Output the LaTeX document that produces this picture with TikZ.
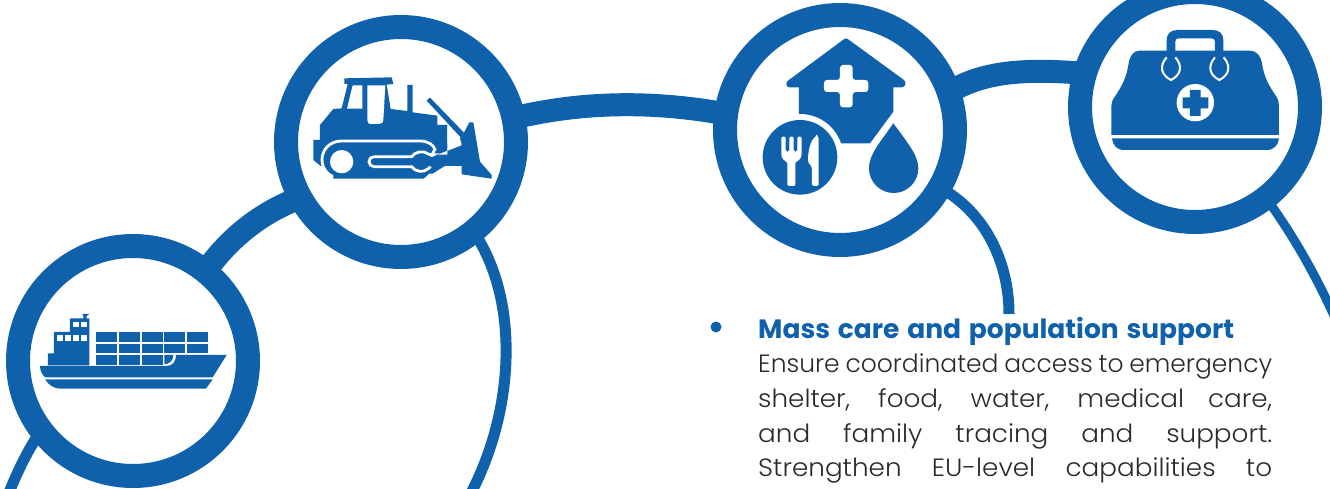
\documentclass[tikz,border=0pt]{standalone}
\usepackage{fontspec}
\setmainfont{Poppins Light}[BoldFont={Poppins Bold}]
\usetikzlibrary{backgrounds}
\definecolor{eublue}{HTML}{0F61AC}
\definecolor{bodytext}{HTML}{2A2A2A}
\newlength{\linew}\setlength{\linew}{514pt}
\newcommand{\jline}[1]{\makebox[\linew][s]{#1}}
\newcommand{\wideline}[1]{\makebox[\linew][s]{\addfontfeature{FakeStretch=1.05}#1}}
\tikzset{
  ring/.style={circle,draw=eublue,fill=white,line width=24pt,minimum size=230pt,inner sep=0pt,outer sep=0pt},
  thick link/.style={draw=eublue,line width=23pt},
  thin link/.style={draw=eublue,line width=11pt},
  ink/.style={fill=eublue,draw=none},
  gap/.style={fill=white,draw=none},
  zoomed/.style={x=0.33333pt,y=-0.33333pt},
  bodyline/.style={anchor=base west,inner sep=0pt,text=bodytext,font=\fontsize{25}{30}\selectfont},
}
\begin{document}
\begin{tikzpicture}[x=1pt,y=-1pt]
\useasboundingbox (0,0) rectangle (1330,489);
\node[ring] (ship) at (133,361) {};
\node[ring] (dozer) at (401,142) {};
\node[ring] (house) at (840,130) {};
\node[ring] (bag) at (1195,107) {};
\coordinate (shipend) at (8,495);
\coordinate (dozerend) at (470,495);
\coordinate (houseend) at (1009,314);
\coordinate (bagend) at (1336,320);
\begin{scope}[on background layer]
\path[thick link] (ship.51) .. controls (230,237) and (262,212) .. (dozer.209.6);
\path[thick link] (dozer.12.7) .. controls (584,101) and (655,101) .. (house.172.7);
\path[thick link] (house.19.3) .. controls (985,70) and (1030,69) .. (bag.163.3);
\path[thin link] (ship.217) .. controls (28,450) and (18,470) .. (shipend);
\path[thin link] (dozer.-51.8) .. controls (520,300) and (515,410) .. (dozerend);
\path[thin link] (house.-30) .. controls (985,212) and (1009,262) .. (houseend);
\path[draw=eublue,line width=9pt] (bag.-52.7) .. controls (1300,245) and (1320,285) .. (bagend);
\end{scope}
% ship icon
\begin{scope}[zoomed,shift={(60,870)}]
\fill[ink] (60,228) -- (440,228) .. controls (460,228) and (468,212) .. (468,195) -- (620,195) -- (578,262) -- (76,262) .. controls (66,255) and (60,240) .. (60,228) -- cycle;
\fill[ink] (76,268) -- (578,268) -- (558,296) -- (125,296) .. controls (100,296) and (85,285) .. (76,268) -- cycle;
\fill[ink] (84,190) -- (102,190) -- (102,126) -- (150,126) -- (150,85) -- (190,85) -- (190,78) -- (187,72) -- (208,72) -- (200,78) -- (200,85) -- (208,85) -- (208,226) -- (84,226) -- cycle;
\foreach \wx/\wy in {160/95,183/95,111/136,135/136,159/136,183/136}
  \fill[gap] (\wx,\wy) rectangle +(17,16);
\foreach \cx/\cw in {228/63,297/63,366/62,433/62,501/63}
  \foreach \cy/\ch in {126/30,162/28}
    \fill[ink] (\cx,\cy) rectangle +(\cw,\ch);
\foreach \cx/\cw in {228/63,297/63,366/62}
  \fill[ink] (\cx,195) rectangle +(\cw,31);
\fill[ink] (433,195) -- (460,195) .. controls (460,210) and (450,222) .. (433,223) -- cycle;
\end{scope}
% bulldozer icon
\begin{scope}[zoomed,shift={(900,180)}]
\fill[ink] (133,55) -- (275,52) -- (280,72) -- (260,74) -- (272,147) -- (322,153) -- (322,75) -- (338,75) -- (338,157) -- (412,167) -- (412,195) -- (442,195) -- (442,285) -- (380,300) -- (62,318) -- (40,300) -- (40,240) -- (60,240) -- (60,195) -- (100,147) -- (125,145) -- (143,72) -- (133,72) -- cycle;
\fill[gap] (158,76) -- (187,76) -- (187,146) -- (141,146) -- cycle;
\fill[gap] (202,76) -- (256,76) -- (250,180) .. controls (250,190) and (240,192) .. (235,192) -- (215,192) .. controls (205,192) and (202,188) .. (202,180) -- cycle;
\draw[white,line width=2.8pt,fill=eublue] (400,345) -- (125,355) .. controls (90,355) and (66,330) .. (66,300) .. controls (66,268) and (90,243) .. (125,243) -- (360,243) .. controls (385,243) and (400,255) .. (405,268) -- (396,284) -- (440,284) -- (440,320) -- (400,345) -- cycle;
\fill[ink] (100,356) -- (370,356) .. controls (385,348) and (395,330) .. (398,318) -- (100,318) -- cycle;
\fill[gap] (125,305) circle[radius=35];
\draw[white,line width=2.8pt] (222,290) -- (335,290) .. controls (345,275) and (370,270) .. (385,282) -- (400,288) (222,320) -- (335,320) .. controls (345,335) and (370,340) .. (385,326) -- (392,320);
\draw[white,line width=2.8pt] (222,290) arc[start angle=-90,end angle=-270,radius=15];
\fill[ink] (380,122) -- (390,113) -- (492,218) -- (482,232) -- cycle;
\fill[ink] (508,187) -- (520,187) -- (540,305) -- (575,345) -- (575,356) -- (485,343) -- (485,318) -- (395,318) -- (395,290) -- (485,253) -- (480,235) -- (492,218) -- cycle;
\fill[gap] (442,197) -- (480,235) -- (442,250) -- cycle;
\fill[gap] (395,291) -- (484,256) -- (484,250) -- (442,266) -- (442,284) -- (395,284) -- cycle;
\end{scope}
% house icon
\begin{scope}[zoomed,shift={(2250,90)}]
\fill[ink] (288,25) .. controls (292,25) and (293,27) .. (296,29) -- (462,150) .. controls (470,157) and (466,172) .. (456,172) -- (430,172) -- (430,245) -- (360,340) -- (200,340) -- (147,260) -- (147,172) -- (118,172) .. controls (108,172) and (106,158) .. (114,152) -- (280,29) .. controls (283,27) and (284,25) .. (288,25) -- cycle;
\fill[gap] (150,382) circle[radius=130];
\fill[ink] (150,382) circle[radius=112];
\fill[gap,rounded corners=3pt] (222,150) -- (270,150) -- (270,105) -- (308,105) -- (308,150) -- (355,150) -- (355,186) -- (308,186) -- (308,232) -- (270,232) -- (270,186) -- (222,186) -- cycle;
\fill[gap,rounded corners=1.5pt] (94,320) -- (107,320) -- (107,365) -- (118,365) -- (118,320) -- (131,320) -- (131,365) -- (142,365) -- (142,320) -- (155,320) -- (155,368) .. controls (155,385) and (145,392) .. (136,396) -- (136,468) -- (112,468) -- (112,396) .. controls (103,392) and (94,385) .. (94,368) -- cycle;
\fill[gap,rounded corners=1.5pt] (200,318) -- (206,320) -- (206,468) -- (186,468) -- (186,412) -- (174,396) .. controls (174,360) and (182,330) .. (200,318) -- cycle;
\fill[ink] (430,280) .. controls (470,335) and (505,375) .. (505,415) arc[start angle=0,end angle=180,radius=74] .. controls (356,375) and (392,335) .. (430,280) -- cycle;
\end{scope}
% bag icon
\begin{scope}[zoomed,shift={(3300,60)}]
\fill[ink] (200,95) -- (200,60) .. controls (200,42) and (212,30) .. (232,30) -- (338,30) .. controls (358,30) and (370,42) .. (370,60) -- (370,95) -- (345,95) -- (345,64) .. controls (345,58) and (340,55) .. (335,55) -- (236,55) .. controls (230,55) and (226,58) .. (226,64) -- (226,95) -- cycle;
\fill[ink] (118,92) -- (450,92) .. controls (470,92) and (482,108) .. (486,130) .. controls (492,170) and (505,195) .. (528,228) .. controls (535,238) and (537,248) .. (537,258) -- (537,345) -- (34,345) -- (34,258) .. controls (34,248) and (38,238) .. (46,228) .. controls (68,195) and (80,170) .. (86,130) .. controls (90,108) and (100,92) .. (118,92) -- cycle;
\fill[ink] (36,355) -- (537,355) .. controls (535,375) and (522,390) .. (500,390) -- (72,390) .. controls (50,390) and (38,375) .. (36,355) -- cycle;
\foreach \lx in {213,358}
  \draw[white,line width=2pt] (\lx-13,112) .. controls (\lx-36,138) and (\lx-30,165) .. (\lx,180) .. controls (\lx+30,165) and (\lx+36,138) .. (\lx+13,112);
\fill[gap] (286,248) circle[radius=56];
\fill[ink] (270,210) -- (302,210) -- (302,232) -- (325,232) -- (325,265) -- (302,265) -- (302,288) -- (270,288) -- (270,265) -- (248,265) -- (248,232) -- (270,232) -- cycle;
\end{scope}
% text
\node[circle,fill=eublue,minimum size=11pt,inner sep=0pt] (bullet) at (716,327) {};
\node[anchor=base west,inner sep=0pt,text=eublue,font=\fontsize{26.5}{30}\selectfont\bfseries] (head) at (758,338) {\makebox[476pt][s]{Mass care and population support}};
\node[bodyline] (l1) at (758,372.5) {\jline{Ensure coordinated access to emergency}};
\node[bodyline] (l2) at (758,407) {\wideline{shelter, food, water, medical care,}};
\node[bodyline] (l3) at (758,442) {\wideline{and family tracing and support.}};
\node[bodyline] (l4) at (758,476.5) {\wideline{Strengthen EU-level capabilities to}};
\end{tikzpicture}
\end{document}
